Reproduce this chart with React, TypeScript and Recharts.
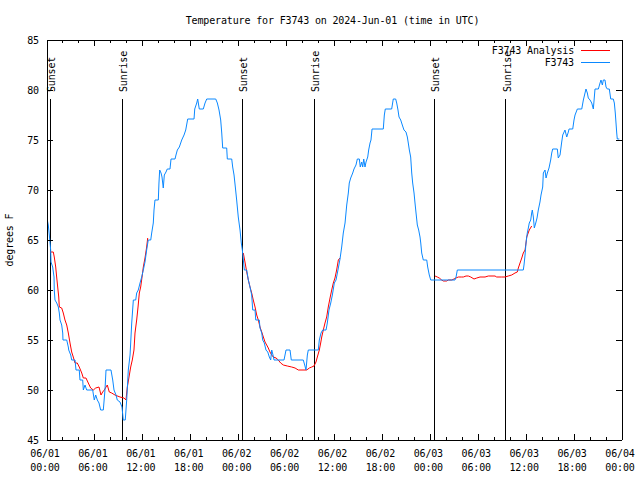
import React from 'react';
import { LineChart, Line, XAxis, YAxis, ReferenceLine, Legend } from 'recharts';

// hours since 06/01 00:00 UTC, temperature in degrees F
const observed: [number, number][] = [
  [0.04, 67], [0.16, 66.5], [0.29, 65.5], [0.46, 64], [0.5, 62.8], [0.71, 62.3], [0.88, 61.3], [0.91, 60],
  [1.0, 59], [1.22, 58.7], [1.42, 58.3], [1.54, 57.7], [1.63, 57], [1.84, 56.5], [1.97, 55.7], [2.0, 55],
  [2.47, 55], [2.67, 54.3], [2.72, 54], [2.97, 53.5], [3.09, 53], [3.51, 53], [3.63, 52], [4.04, 52],
  [4.13, 51], [4.47, 51], [4.55, 50], [4.76, 50.5], [4.97, 50], [5.72, 50], [5.92, 49], [6.1, 49.5],
  [6.3, 49], [6.51, 48.7], [6.72, 48], [7.05, 48], [7.26, 50], [7.39, 52], [8.01, 52], [8.23, 51],
  [8.39, 50], [8.64, 49.5], [8.8, 49], [9.14, 48.8], [9.39, 48.3], [9.55, 47], [9.8, 47], [9.98, 49],
  [10.18, 52], [10.4, 53.5], [10.61, 56.7], [10.81, 59], [11.11, 59], [11.23, 59.7], [11.43, 60], [11.65, 60.7],
  [11.86, 61.3], [12.06, 62], [12.27, 62.8], [12.48, 64], [12.68, 65], [12.99, 65], [13.11, 65.7], [13.31, 66.7],
  [13.4, 68], [13.52, 69], [13.94, 69], [14.02, 70.7], [14.11, 72], [14.28, 71.7], [14.4, 71.3], [14.56, 70.2],
  [14.69, 71.5], [14.9, 71.8], [15.06, 72.1], [15.4, 72.1], [15.53, 73.1], [16.03, 73.1], [16.15, 73.5], [16.32, 74],
  [16.57, 74.3], [16.87, 75], [17.16, 75.5], [17.37, 76], [17.62, 77.1], [18.41, 77.1], [18.5, 78.1], [18.75, 78.7],
  [18.87, 79.1], [18.95, 78.7], [19.07, 78.1], [19.57, 78.1], [19.79, 78.7], [20.0, 79.1], [21.13, 79.1], [21.33, 78.7],
  [21.54, 78], [21.75, 77], [21.88, 75.7], [22.0, 74.2], [22.5, 74.2], [22.58, 73.1], [23.13, 73.1], [23.25, 72.3],
  [23.42, 71.5], [23.58, 70.3], [23.75, 69], [23.95, 67.3], [24.17, 66], [24.33, 64.7], [24.46, 64], [24.71, 62],
  [25.01, 62], [25.21, 61], [25.42, 60.3], [25.63, 59.5], [25.76, 58], [26.05, 58], [26.14, 57], [26.58, 57],
  [26.67, 56.2], [26.89, 55.7], [27.01, 55], [27.21, 54.7], [27.42, 54], [27.64, 53.8], [27.84, 53.3], [28.01, 53],
  [28.14, 54], [28.3, 53.5], [28.43, 53], [29.68, 53], [29.93, 54], [30.43, 54], [30.59, 53], [32.09, 53],
  [32.27, 52.5], [32.43, 52], [32.6, 53.5], [32.72, 54], [33.97, 54], [34.1, 55], [34.31, 55.7], [34.52, 56],
  [34.94, 56], [35.1, 56.7], [35.31, 58], [35.53, 58.7], [35.73, 59.5], [35.98, 60.7], [36.19, 61], [36.48, 62.2],
  [36.69, 63.1], [36.9, 64.3], [37.1, 65.7], [37.32, 66.7], [37.53, 68.5], [37.73, 69.7], [37.85, 70.7], [38.03, 71.2],
  [38.28, 71.7], [38.44, 72.1], [38.69, 72.5], [38.86, 73.1], [39.11, 73.1], [39.23, 72.3], [39.41, 72.8], [39.53, 72.3],
  [39.66, 73.1], [39.82, 72.3], [39.95, 72.8], [40.16, 73.3], [40.28, 74], [40.45, 74.7], [40.57, 75], [40.7, 76.1],
  [42.11, 76.1], [42.24, 77.5], [42.36, 78.1], [43.16, 78.1], [43.36, 79.1], [43.66, 79.1], [43.79, 78.7], [43.95, 78],
  [44.08, 77.3], [44.29, 77], [44.49, 76.5], [44.7, 76], [44.95, 75.8], [45.12, 75.3], [45.24, 74.7], [45.37, 74],
  [45.54, 73.3], [45.67, 71.7], [45.79, 70.7], [45.96, 69.7], [46.08, 68.7], [46.21, 67.7], [46.37, 66.5], [46.54, 66],
  [46.71, 65.3], [46.8, 64.7], [46.92, 63.7], [47.12, 63], [47.55, 63], [47.67, 62.3], [47.87, 61.5], [48.05, 61],
  [51.09, 61], [51.22, 61.3], [51.38, 62], [59.64, 62], [59.73, 62.5], [59.86, 63.5], [59.98, 64.7], [60.14, 65.7],
  [60.27, 66.2], [60.39, 66.7], [60.57, 67], [60.69, 67.7], [60.77, 68], [60.9, 67.3], [61.02, 66.2], [61.2, 66.7],
  [61.36, 67.2], [61.52, 68], [61.73, 68.8], [61.86, 69.5], [62.07, 70.3], [62.15, 71.7], [62.36, 72], [62.49, 71.2],
  [62.65, 71.7], [62.86, 72.2], [63.07, 73], [63.2, 73.7], [63.32, 74.1], [63.9, 74.1], [64.02, 73.2], [64.24, 73.5],
  [64.45, 74.8], [64.58, 75.5], [64.86, 76], [65.08, 75.3], [65.28, 75.8], [65.37, 76.1], [65.83, 76.1], [65.99, 77],
  [66.12, 77.5], [66.41, 78.1], [66.96, 78.1], [67.16, 79], [67.37, 79.7], [67.49, 80.1], [67.66, 79.7], [67.78, 79.2],
  [68.0, 79], [68.21, 78.7], [68.41, 78.1], [68.62, 80.1], [69.04, 80.1], [69.25, 80.7], [69.37, 81], [69.54, 80.5],
  [69.66, 81], [69.87, 81], [70.0, 80.3], [70.16, 80.1], [70.41, 80.1], [70.59, 79.1], [70.91, 79.1], [71.04, 78.7],
  [71.16, 77.7], [71.25, 76.7], [71.34, 75.7], [71.41, 75.1], [71.66, 75.1],
];

// analysis, night-time only (null breaks the line between nights)
const analysis: [number, number | null][] = [
  [0.38, 63.8], [0.79, 63.8], [0.91, 63.3], [1.09, 62.3], [1.21, 61.3], [1.34, 60.3], [1.47, 59.3], [1.54, 58.3],
  [1.84, 58.2], [2.04, 57.7], [2.25, 57], [2.47, 56.5], [2.67, 55.7], [2.88, 54.7], [3.09, 53.8], [3.29, 53.3],
  [3.51, 52.7], [3.79, 52.7], [4.04, 52.3], [4.35, 51.7], [4.55, 51.2], [4.88, 51.2], [5.17, 50.7], [5.47, 50.2],
  [5.8, 50], [6.1, 50.2], [6.51, 50.3], [6.76, 49.5], [6.97, 49.8], [7.18, 50], [7.39, 50.3], [7.55, 50.5],
  [7.8, 49.8], [8.1, 49.7], [8.51, 49.5], [9.14, 49.3], [9.64, 49.2], [9.89, 49], [10.06, 50.3], [10.27, 51.3],
  [10.48, 52.3], [10.68, 53], [10.89, 54], [11.02, 55.7], [11.23, 57], [11.4, 58.3], [11.56, 59.7], [11.73, 60.3],
  [11.9, 61.3], [12.06, 62.3], [12.27, 63.2], [12.48, 64.3], [12.61, 65.2],
  [18, null],
  [24.58, 63.7], [24.79, 62.8], [25.01, 61.8], [25.21, 61], [25.42, 60.3], [25.63, 59.7], [25.83, 59], [26.05, 58.3],
  [26.26, 57.5], [26.46, 57], [26.67, 56.3], [26.89, 55.8], [27.09, 55.3], [27.3, 54.8], [27.51, 54.5], [27.71, 54.2],
  [27.92, 53.8], [28.14, 53.5], [28.34, 53.3], [28.68, 53.2], [28.96, 53], [29.26, 52.7], [29.59, 52.5], [30.09, 52.4],
  [30.64, 52.3], [31.06, 52.2], [31.47, 52], [32.52, 52], [32.85, 52.2], [33.15, 52.3], [33.43, 52.4], [33.68, 52.8],
  [33.85, 53.3], [34.1, 54], [34.27, 54.7], [34.4, 55.3], [34.6, 56], [34.81, 56.7], [35.02, 57.3], [35.22, 58.3],
  [35.44, 59.2], [35.65, 60], [35.85, 60.7], [36.06, 61.2], [36.27, 62], [36.48, 63], [36.69, 63.2],
  [42, null],
  [48.59, 61.4], [48.87, 61.3], [49.12, 61.2], [49.42, 61], [49.62, 60.9], [50.05, 60.9], [50.25, 61], [50.68, 61],
  [50.96, 61.1], [51.22, 61.2], [51.5, 61.3], [51.93, 61.3], [52.13, 61.3], [52.47, 61.4], [52.76, 61.4], [53.06, 61.3],
  [53.47, 61.1], [53.81, 61.2], [54.22, 61.3], [54.85, 61.3], [55.26, 61.4], [56.1, 61.4], [56.31, 61.3], [56.94, 61.3],
  [57.35, 61.3], [57.76, 61.4], [58.19, 61.5], [58.6, 61.7], [58.89, 61.8], [59.02, 62.2], [59.23, 62.7], [59.45, 63.2],
  [59.64, 63.7], [59.86, 64], [59.98, 64.7], [60.07, 65.3], [60.39, 66], [60.69, 66.4],
];

const sunHours = [0.38, 9.43, 24.46, 33.47, 48.5, 57.44];
const sunNames = ['Sunset', 'Sunrise', 'Sunset', 'Sunrise', 'Sunset', 'Sunrise'];
const sunLineTop = 79.1;

const hourTicks = [0, 2, 4, 6, 8, 10, 12, 14, 16, 18, 20, 22, 24, 26, 28, 30, 32, 34, 36,
  38, 40, 42, 44, 46, 48, 50, 52, 54, 56, 58, 60, 62, 64, 66, 68, 70, 72];
const majorTicks = [0, 6, 12, 18, 24, 30, 36, 42, 48, 54, 60, 66, 72];
const tickDates = ['06/01', '06/01', '06/01', '06/01', '06/02', '06/02', '06/02', '06/02', '06/03', '06/03', '06/03', '06/03', '06/04'];
const tickTimes = ['00:00', '06:00', '12:00', '18:00', '00:00', '06:00', '12:00', '18:00', '00:00', '06:00', '12:00', '18:00', '00:00'];
const tempTicks = [45, 50, 55, 60, 65, 70, 75, 80, 85];

const seriesNames = ['F3743 Analysis', 'F3743'];
const title = 'Temperature for F3743 on 2024-Jun-01 (time in UTC)';
const FONT = '"DejaVu Sans Mono", "Liberation Mono", monospace';
const textStyle = { fontFamily: FONT, fontSize: 10, letterSpacing: '-0.15px', fill: '#000' };

const obsData = observed.map(([h, v]) => ({ h, v }));
const anaData = analysis.map(([h, v]) => ({ h, v }));

const BottomTick = (props: any) => {
  const { x, y, payload } = props;
  const i = majorTicks.indexOf(payload.value);
  return (
    <g>
      <line x1={x} y1={y} x2={x} y2={y - (i >= 0 ? 6 : 3)} stroke="#000" shapeRendering="crispEdges" />
      {i >= 0 && (
        <>
          <text x={x - 2} y={y + 17} textAnchor="middle" style={textStyle}>{tickDates[i]}</text>
          <text x={x - 2} y={y + 31} textAnchor="middle" style={textStyle}>{tickTimes[i]}</text>
        </>
      )}
    </g>
  );
};

const TopTick = (props: any) => {
  const { x, y, payload } = props;
  const major = majorTicks.includes(payload.value);
  return <line x1={x} y1={y} x2={x} y2={y + (major ? 6 : 3)} stroke="#000" shapeRendering="crispEdges" />;
};

const LeftTick = (props: any) => {
  const { x, y, payload } = props;
  return (
    <g>
      <line x1={x} y1={y} x2={x + 6} y2={y} stroke="#000" shapeRendering="crispEdges" />
      <text x={x - 8} y={y + 4} textAnchor="end" style={textStyle}>{payload.value}</text>
    </g>
  );
};

const RightTick = (props: any) => {
  const { x, y } = props;
  return <line x1={x} y1={y} x2={x - 6} y2={y} stroke="#000" shapeRendering="crispEdges" />;
};

const TitleLabel = (props: any) => {
  const vb = props.viewBox;
  return (
    <text x={vb.x + vb.width / 2 - 2} y={vb.y + 14} textAnchor="middle" style={textStyle}>{title}</text>
  );
};

const YTitle = (props: any) => {
  const vb = props.viewBox;
  const x = vb.x + 6;
  const y = vb.y + vb.height / 2;
  return (
    <text x={x} y={y} transform={`rotate(-90 ${x} ${y})`} textAnchor="middle" style={textStyle}>degrees F</text>
  );
};

const sunLabel = (name: string) => (props: any) => {
  const vb = props.viewBox;
  const x = vb.x + 5;
  const y = vb.y - 7;
  return (
    <text x={x} y={y} transform={`rotate(-90 ${x} ${y})`} textAnchor="start" style={textStyle}>{name}</text>
  );
};

const LegendBox = (props: any) => {
  const items = [...(props.payload || [])].sort(
    (a: any, b: any) => seriesNames.indexOf(a.value) - seriesNames.indexOf(b.value)
  );
  return (
    <svg width={190} height={30}>
      {items.map((p: any, i: number) => (
        <g key={p.value}>
          <text x={144} y={10 + 12 * i + 4} textAnchor="end" style={textStyle}>{p.value}</text>
          <line x1={151} x2={180} y1={10 + 12 * i} y2={10 + 12 * i} stroke={p.color} shapeRendering="crispEdges" />
        </g>
      ))}
    </svg>
  );
};

export default function App() {
  return (
    <div style={{ position: 'absolute', left: 0, top: 0, width: 640, height: 480, background: '#fff' }}>
      <LineChart width={640} height={480} margin={{ top: 10, right: 8, bottom: 10, left: 7 }}>
        <XAxis
          xAxisId="bottom"
          type="number"
          dataKey="h"
          domain={[0, 72]}
          allowDataOverflow
          ticks={hourTicks}
          interval={0}
          height={30}
          tickSize={0}
          tickMargin={0}
          tickLine={false}
          axisLine={{ stroke: '#000', shapeRendering: 'crispEdges' }}
          tick={BottomTick}
        />
        <XAxis
          xAxisId="top"
          orientation="top"
          type="number"
          dataKey="h"
          domain={[0, 72]}
          allowDataOverflow
          ticks={hourTicks}
          interval={0}
          height={30}
          tickSize={0}
          tickMargin={0}
          tickLine={false}
          axisLine={{ stroke: '#000', shapeRendering: 'crispEdges' }}
          tick={TopTick}
          label={<TitleLabel />}
        />
        <YAxis
          yAxisId="left"
          type="number"
          domain={[45, 85]}
          allowDataOverflow
          ticks={tempTicks}
          interval={0}
          width={40}
          tickSize={0}
          tickMargin={0}
          tickLine={false}
          axisLine={{ stroke: '#000', shapeRendering: 'crispEdges' }}
          tick={LeftTick}
          label={<YTitle />}
        />
        <YAxis
          yAxisId="right"
          orientation="right"
          type="number"
          domain={[45, 85]}
          allowDataOverflow
          ticks={tempTicks}
          interval={0}
          width={10}
          tickSize={0}
          tickMargin={0}
          tickLine={false}
          axisLine={{ stroke: '#000', shapeRendering: 'crispEdges' }}
          tick={RightTick}
        />
        {sunHours.map((h, i) => (
          <ReferenceLine
            key={`sun-${i}`}
            xAxisId="bottom"
            yAxisId="left"
            segment={[{ x: h, y: 45 }, { x: h, y: sunLineTop }]}
            stroke="#000"
            strokeWidth={1}
            shapeRendering="crispEdges"
            label={sunLabel(sunNames[i])}
          />
        ))}
        <Line
          xAxisId="bottom"
          yAxisId="left"
          data={anaData}
          dataKey="v"
          name={seriesNames[0]}
          stroke="#ff0000"
          strokeWidth={1}
          dot={false}
          activeDot={false}
          isAnimationActive={false}
        />
        <Line
          xAxisId="bottom"
          yAxisId="left"
          data={obsData}
          dataKey="v"
          name={seriesNames[1]}
          stroke="#0a88ff"
          strokeWidth={1}
          dot={false}
          activeDot={false}
          isAnimationActive={false}
        />
        <Legend
          layout="vertical"
          align="center"
          verticalAlign="middle"
          wrapperStyle={{ left: 430, top: 40, width: 190, height: 30 }}
          content={LegendBox}
        />
      </LineChart>
    </div>
  );
}
